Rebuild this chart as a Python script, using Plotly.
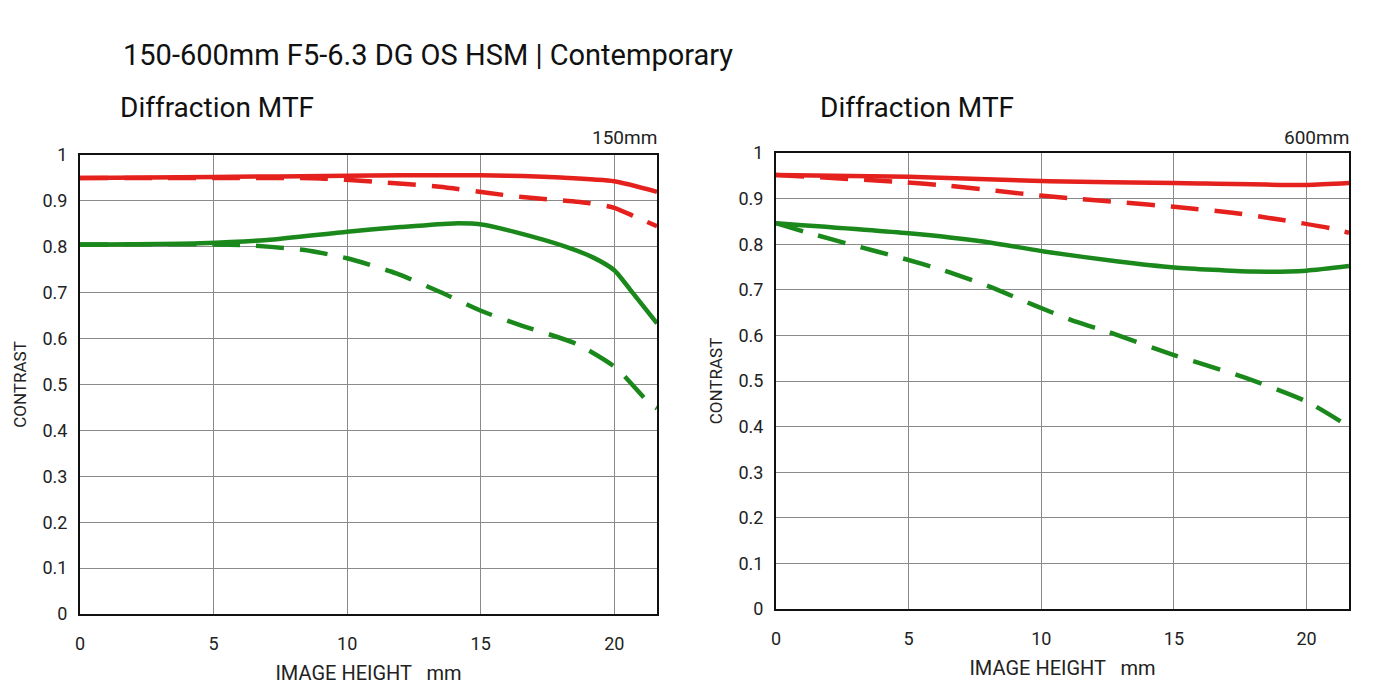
import plotly.graph_objects as go

# ---- data ----
x_150_rs = [0, 5, 10, 12, 14, 16, 18, 20, 21.6]
y_150_rs = [0.950, 0.952, 0.955, 0.956, 0.956, 0.955, 0.951, 0.943, 0.920]
x_150_rd = [0, 5, 9, 10.95, 13.46, 15.3, 16.45, 19.07, 20, 20.8, 21.6]
y_150_rd = [0.950, 0.950, 0.949, 0.942, 0.931, 0.917, 0.909, 0.895, 0.885, 0.865, 0.845]
x_150_gs = [0, 4.5, 7, 10, 12, 14, 15.1, 16.3, 18.2, 19.2, 20, 20.7, 21.6]
y_150_gs = [0.805, 0.808, 0.815, 0.833, 0.843, 0.851, 0.848, 0.832, 0.800, 0.777, 0.749, 0.699, 0.633]
x_150_gd = [0, 6, 8.4, 10, 11.84, 13.46, 15.08, 16.45, 18.6, 20.07, 21.3, 21.6]
y_150_gd = [0.805, 0.804, 0.793, 0.775, 0.742, 0.702, 0.659, 0.630, 0.588, 0.536, 0.460, 0.448]

x_600_rs = [0, 5, 10.3, 15, 20, 21.6]
y_600_rs = [0.952, 0.948, 0.938, 0.934, 0.930, 0.934]
x_600_rd = [0, 4.78, 6.54, 8.3, 10.06, 11.3, 13, 15, 17.2, 19.1, 20.9, 21.6]
y_600_rd = [0.952, 0.936, 0.928, 0.917, 0.906, 0.900, 0.892, 0.882, 0.869, 0.853, 0.835, 0.825]
x_600_gs = [0, 5, 7.8, 10.1, 12.9, 15, 17.9, 20, 21.6]
y_600_gs = [0.846, 0.824, 0.806, 0.784, 0.762, 0.749, 0.740, 0.742, 0.752]
x_600_gd = [0, 1.1, 2.9, 4.65, 6.3, 8.05, 9.7, 11.3, 12.5, 15, 17.6, 20, 21.6]
y_600_gd = [0.846, 0.827, 0.798, 0.771, 0.743, 0.707, 0.667, 0.630, 0.608, 0.557, 0.509, 0.455, 0.400]

y_ticks = [0, 0.1, 0.2, 0.3, 0.4, 0.5, 0.6, 0.7, 0.8, 0.9, 1]
y_ticklabels = ["0", "0.1", "0.2", "0.3", "0.4", "0.5", "0.6", "0.7", "0.8", "0.9", "1"]
x_ticks = [0, 5, 10, 15, 20]

RED = "#e5211d"
GREEN = "#1b881b"
DASH = "28px,16px"
LW = 4.5

# page offset (body margin) compensation
OFF = 8
W, H = 1384, 684
def fx(px):
    return (px - OFF) / W
def fy(py):
    return 1 - (py - OFF) / H

fig = go.Figure()

def add(x, y, color, dash, xa, ya):
    fig.add_trace(go.Scatter(x=x, y=y, mode="lines", xaxis=xa, yaxis=ya,
                             line=dict(color=color, width=LW, dash=dash, shape="spline", smoothing=0.6),
                             showlegend=False, hoverinfo="skip"))

add(x_150_gd, y_150_gd, GREEN, DASH, "x", "y")
add(x_150_gs, y_150_gs, GREEN, "solid", "x", "y")
add(x_150_rd, y_150_rd, RED, DASH, "x", "y")
add(x_150_rs, y_150_rs, RED, "solid", "x", "y")
add(x_600_gd, y_600_gd, GREEN, DASH, "x2", "y2")
add(x_600_gs, y_600_gs, GREEN, "solid", "x2", "y2")
add(x_600_rd, y_600_rd, RED, DASH, "x2", "y2")
add(x_600_rs, y_600_rs, RED, "solid", "x2", "y2")

tick_font = dict(family="Roboto, sans-serif", size=18, color="#222")
xtitle_font = dict(family="Roboto, sans-serif", size=20, color="#222")
ytitle_font = dict(family="Roboto, sans-serif", size=17, color="#222")

xax = dict(range=[0, 21.6], tickvals=x_ticks, showgrid=True, gridcolor="#8a8a8a", gridwidth=1,
           zeroline=False, showline=True, linecolor="#111", linewidth=2, mirror=True, automargin=False,
           ticks="", tickfont=tick_font, ticklabelstandoff=12,
           title=dict(text="IMAGE HEIGHT &nbsp; mm", font=xtitle_font, standoff=13))
yax = dict(range=[0, 1], tickvals=y_ticks, ticktext=y_ticklabels, showgrid=True, gridcolor="#8a8a8a",
           gridwidth=1, zeroline=False, showline=True, linecolor="#111", linewidth=2, mirror=True,
           automargin=False, ticks="", tickfont=tick_font, ticklabelstandoff=7,
           title=dict(text="CONTRAST", font=ytitle_font, standoff=11))

fig.update_layout(
    width=W, height=H,
    margin=dict(l=0, r=0, t=0, b=0),
    paper_bgcolor="white", plot_bgcolor="white",
    xaxis=dict(xax, domain=[fx(80), fx(657)], anchor="y"),
    yaxis=dict(yax, domain=[fy(614), fy(155)], anchor="x"),
    xaxis2=dict(xax, domain=[fx(776), fx(1349)], anchor="y2"),
    yaxis2=dict(yax, domain=[fy(609), fy(153)], anchor="x2"),
)

ann_font_title = dict(family="Roboto, sans-serif", size=29, color="#111")
ann_font_sub = dict(family="Roboto, sans-serif", size=28, color="#111")
ann_font_small = dict(family="Roboto, sans-serif", size=19, color="#222")
fig.add_annotation(text="150-600mm F5-6.3 DG OS HSM | Contemporary", xref="paper", yref="paper",
                   x=fx(121), y=fy(55), xanchor="left", yanchor="middle", showarrow=False, font=ann_font_title)
fig.add_annotation(text="Diffraction MTF", xref="paper", yref="paper",
                   x=fx(118), y=fy(108), xanchor="left", yanchor="middle", showarrow=False, font=ann_font_sub)
fig.add_annotation(text="Diffraction MTF", xref="paper", yref="paper",
                   x=fx(818), y=fy(108), xanchor="left", yanchor="middle", showarrow=False, font=ann_font_sub)
fig.add_annotation(text="150mm", xref="paper", yref="paper",
                   x=fx(659), y=fy(138), xanchor="right", yanchor="middle", showarrow=False, font=ann_font_small)
fig.add_annotation(text="600mm", xref="paper", yref="paper",
                   x=fx(1351), y=fy(137), xanchor="right", yanchor="middle", showarrow=False, font=ann_font_small)

fig.write_html("out.html")
